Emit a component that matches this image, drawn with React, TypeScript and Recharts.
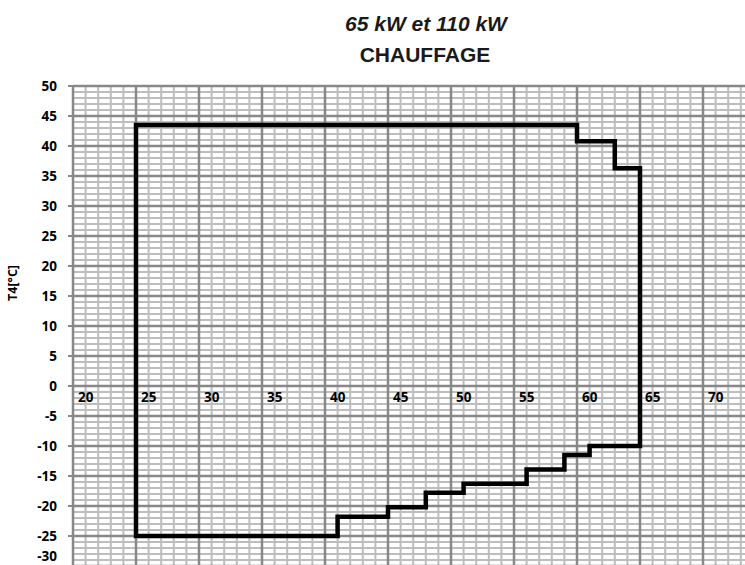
import { ComposedChart, Line, Scatter, XAxis, YAxis, ReferenceLine } from 'recharts';

// operating envelope, heating mode (water temp on x, T4 outdoor temp on y)
const envelopeX = [25, 25, 60, 60, 63, 63, 65, 65, 61, 61, 59, 59, 56, 56, 51, 51, 48, 48, 45, 45, 41, 41, 25];
const envelopeY = [-25, 43.5, 43.5, 40.8, 40.8, 36.3, 36.3, -10, -10, -11.5, -11.5, -13.9, -13.9, -16.3, -16.3, -17.8, -17.8, -20.2, -20.2, -21.8, -21.8, -25, -25];

const xTicks = [20, 25, 30, 35, 40, 45, 50, 55, 60, 65, 70];
const xMajor = [20, 25, 30, 35, 40, 45, 50, 55, 60, 65, 70, 75];
const yTicks = [-30, -25, -20, -15, -10, -5, 0, 5, 10, 15, 20, 25, 30, 35, 40, 45, 50];

const xMinor = Array.from({ length: 56 }, (_, i) => 20 + i).filter((v) => v % 5 !== 0);
const yMinor = Array.from({ length: 81 }, (_, i) => -30 + i).filter((v) => v % 5 !== 0);

const envelope = envelopeX.map((x, i) => ({ x, y: envelopeY[i] }));
const xLabelPoints = xTicks.map((x) => ({ x, y: 0 }));

const MINOR = '#bdbdbd';
const MAJOR = '#888888';
const FONT = "'Open Sans', Lato, sans-serif";

const XLabel = (props: any) => (
  <text x={props.cx + 5} y={props.cy + 16} fontFamily={FONT} fontWeight={700} fontSize={13.5} fill="#000" textAnchor="start">
    {props.payload.x}
  </text>
);

// Excel pushes the lowest label up so it stays inside the frame
const YTick = (props: any) => {
  const { x, y, payload } = props;
  const shift = payload.value === yTicks[0] ? -10 : 0;
  return (
    <text x={x} y={y + shift} dy="0.35em" fontFamily={FONT} fontWeight={700} fontSize={13.5} fill="#000" textAnchor="end">
      {payload.value}
    </text>
  );
};

export default function App() {
  return (
    <div style={{ position: 'fixed', top: 0, left: 0, width: 745, height: 565, overflow: 'hidden', background: '#fff' }}>
      <ComposedChart width={770} height={570} margin={{ top: 86, right: 4, bottom: 4, left: 0 }}>
        <XAxis dataKey="x" type="number" domain={[20, 75]} allowDataOverflow hide />
        <YAxis
          dataKey="y"
          type="number"
          domain={[-30, 50]}
          ticks={yTicks}
          interval={0}
          width={73}
          tickSize={5}
          tickMargin={11}
          tick={<YTick />}
          tickLine={{ stroke: MAJOR, strokeWidth: 2 }}
          axisLine={{ stroke: MAJOR, strokeWidth: 2 }}
        />
        {xMinor.map((v) => (
          <ReferenceLine key={'xm' + v} x={v} stroke={MINOR} strokeWidth={2} zIndex={-20} />
        ))}
        {yMinor.map((v) => (
          <ReferenceLine key={'ym' + v} y={v} stroke={MINOR} strokeWidth={2} zIndex={-20} />
        ))}
        {xMajor.map((v) => (
          <ReferenceLine key={'xM' + v} x={v} stroke={MAJOR} strokeWidth={2.5} zIndex={-10} />
        ))}
        {yTicks.map((v) => (
          <ReferenceLine key={'yM' + v} y={v} stroke={MAJOR} strokeWidth={2.5} zIndex={-10} />
        ))}
        <Line
          data={envelope}
          dataKey="y"
          type="linear"
          stroke="#000"
          strokeWidth={4.5}
          strokeLinejoin="miter"
          strokeLinecap="square"
          dot={false}
          activeDot={false}
          isAnimationActive={false}
        />
        <Scatter data={xLabelPoints} dataKey="y" shape={XLabel} isAnimationActive={false} />
      </ComposedChart>
      <svg width={745} height={565} style={{ position: 'absolute', left: 0, top: 0, pointerEvents: 'none' }}>
        <text x={426} y={31} textAnchor="middle" fontFamily="'Liberation Sans', Arial, sans-serif" fontWeight={700} fontStyle="italic" fontSize={21} fill="#1a1a1a">
          65 kW et 110 kW
        </text>
        <text x={425} y={62} textAnchor="middle" fontFamily="'Liberation Sans', Arial, sans-serif" fontWeight={700} fontSize={21} fill="#1a1a1a">
          CHAUFFAGE
        </text>
        <text x={17} y={283} transform="rotate(-90, 17, 283)" textAnchor="middle" fontFamily={FONT} fontWeight={700} fontSize={12.5} fill="#000">
          T4[°C]
        </text>
      </svg>
    </div>
  );
}
